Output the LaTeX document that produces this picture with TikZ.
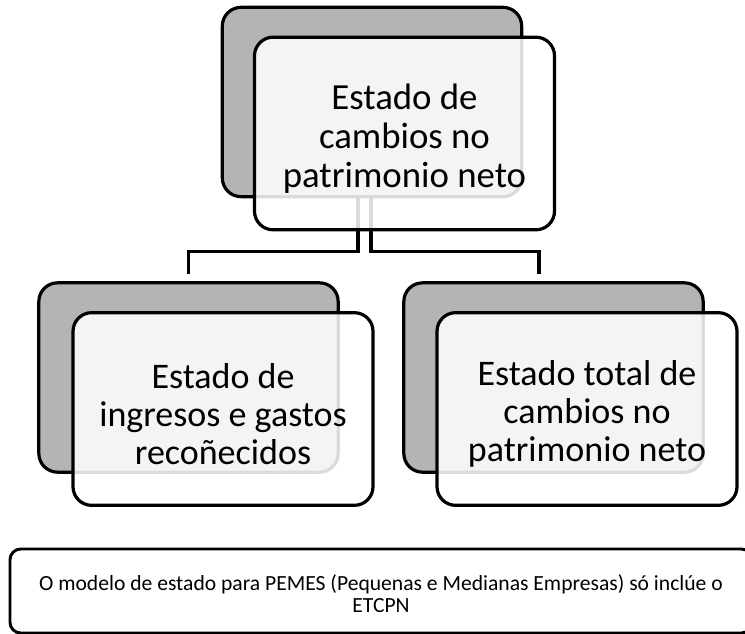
\documentclass[tikz,border=0pt]{standalone}
\usepackage{fontspec}
\setmainfont{Carlito}
\usetikzlibrary{calc}
\definecolor{boxgray}{RGB}{180,180,180}
\newcommand\firstlift[1]{\rule{0pt}{#1}}
\tikzset{
  backbox/.style={draw=black, line width=2.4pt, rounded corners=14pt, fill=boxgray,
    minimum width=224.5pt, minimum height=142pt, inner sep=0pt},
  frontbox/.style={draw=black, line width=2.4pt, rounded corners=14pt, fill=white,
    fill opacity=0.86, text opacity=1, minimum width=225pt, minimum height=144.5pt,
    inner sep=0pt, align=center},
  bigtext/.style={font=\fontsize{27.6}{29.6}\selectfont},
  midtext/.style={font=\fontsize{27}{28.6}\selectfont},
  notebox/.style={draw=black, line width=2.2pt, rounded corners=8pt, fill=white,
    minimum width=556.5pt, minimum height=63pt, inner sep=0pt, align=center,
    font=\fontsize{16.2}{16.4}\selectfont},
  conn/.style={draw=black, line width=2.4pt}
}
\begin{document}
\begin{tikzpicture}[x=0.75pt, y=-0.75pt]
\useasboundingbox (0,0) rectangle (745,634);
% back boxes
\node[backbox] (tb) at (372,102) {};
\node[backbox] (lb) at (188.5,377.5) {};
\node[backbox] (rb) at (553.5,377.5) {};
% connectors
\draw[conn] ([xshift=-10.5pt]tb.south) -- ++(0,53) -| ([yshift=5.25pt]lb.north);
\draw[conn] ([xshift=-0.75pt]tb.south) -- ++(0,53) -| ([xshift=-10.9pt,yshift=5.25pt]rb.north);
% front boxes
\node[frontbox, bigtext] (tf) at (404.5,133.5) {\firstlift{27pt}Estado de\\cambios no\\patrimonio neto};
\node[frontbox, midtext] (lf) at (223,409) {\firstlift{26.5pt}Estado de\\ingresos e gastos\\reco\~necidos};
\node[frontbox, midtext] (rf) at (587,409) {\firstlift{26.5pt}Estado total de\\cambios no\\patrimonio neto};
% note
\node[notebox] (note) at (381,591) {\firstlift{15.8pt}O modelo de estado para PEMES (Pequenas e Medianas Empresas) só inclúe o\\ETCPN};
\end{tikzpicture}
\end{document}
